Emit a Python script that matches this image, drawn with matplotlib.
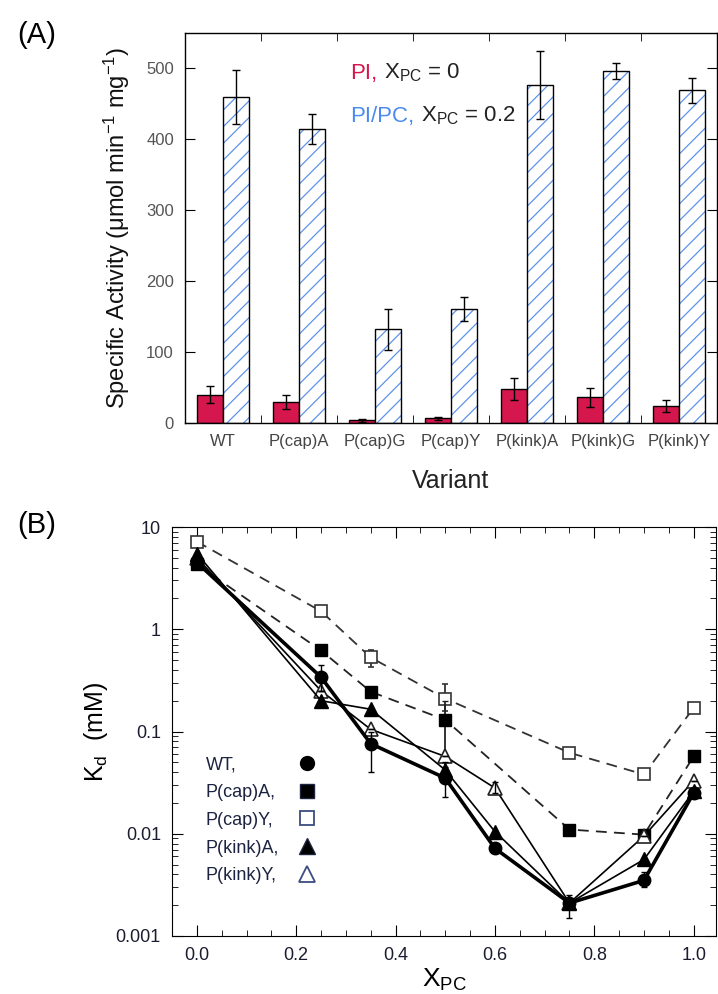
import numpy as np
import matplotlib.pyplot as plt
from matplotlib.lines import Line2D
from matplotlib.offsetbox import TextArea, HPacker, AnchoredOffsetbox
from matplotlib.ticker import MultipleLocator, FixedLocator, LogLocator, NullFormatter

plt.rcParams['font.family'] = ['Liberation Sans', 'DejaVu Sans']
plt.rcParams['mathtext.fontset'] = 'custom'
plt.rcParams['mathtext.rm'] = 'Liberation Sans'
plt.rcParams['mathtext.it'] = 'Liberation Sans:italic'
plt.rcParams['hatch.linewidth'] = 0.9

# -------------------------------------------------
# Panel A data: specific activity per variant
# -------------------------------------------------
variants = ["WT", "P(cap)A", "P(cap)G", "P(cap)Y", "P(kink)A", "P(kink)G", "P(kink)Y"]
act_pi = [40, 30, 4, 6.5, 48, 36, 24]
err_pi = [12, 10, 2, 2, 15, 13, 8]
act_pipc = [460, 415, 132, 161, 477, 496, 469]
err_pipc = [38, 21, 29, 17, 48, 11, 18]

# -------------------------------------------------
# Panel B data: Kd vs X_PC
# -------------------------------------------------
x_full = [0.0, 0.25, 0.35, 0.5, 0.6, 0.75, 0.9, 1.0]
x_cap = [0.0, 0.25, 0.35, 0.5, 0.75, 0.9, 1.0]

kd_wt = [4.5, 0.34, 0.076, 0.035, 0.0072, 0.0021, 0.0035, 0.025]
kd_wt_lo = [4.5, 0.25, 0.04, 0.023, 0.0065, 0.0015, 0.003, 0.024]
kd_wt_hi = [4.5, 0.45, 0.1, 0.05, 0.008, 0.0025, 0.0042, 0.027]

kd_capA = [4.3, 0.62, 0.245, 0.13, 0.011, 0.0098, 0.057]
kd_capA_lo = [4.3, 0.62, 0.245, 0.045, 0.011, 0.0098, 0.057]
kd_capA_hi = [4.3, 0.62, 0.245, 0.2, 0.011, 0.0098, 0.057]

kd_capY = [7.2, 1.5, 0.53, 0.21, 0.062, 0.038, 0.17]
kd_capY_lo = [7.2, 1.5, 0.43, 0.16, 0.062, 0.038, 0.17]
kd_capY_hi = [7.2, 1.5, 0.62, 0.29, 0.062, 0.038, 0.17]

kd_kinkA = [5.5, 0.2, 0.165, 0.042, 0.0105, 0.0021, 0.0056, 0.026]
kd_kinkY = [5.0, 0.25, 0.105, 0.057, 0.028, 0.0021, 0.0095, 0.033]
kd_kinkY_lo = [5.0, 0.25, 0.105, 0.057, 0.025, 0.0021, 0.0095, 0.033]
kd_kinkY_hi = [5.0, 0.25, 0.105, 0.057, 0.032, 0.0021, 0.0095, 0.033]

legend_names = ["WT,", "P(cap)A,", "P(cap)Y,", "P(kink)A,", "P(kink)Y,"]

red = "#D5174D"
blue = "#5E92EA"
legblue = "#4B8AF0"

W, H = 718, 994
fig = plt.figure(figsize=(W / 100, H / 100), dpi=100)

# -------------------------------------------------
# Panel A
# -------------------------------------------------
axA = fig.add_axes([185 / W, 1 - 423 / H, 532 / W, 390 / H])
pos = np.arange(len(variants))
bw = 0.34
axA.bar(pos - bw / 2, act_pi, bw, color=red, edgecolor="black", linewidth=1.0, zorder=2)
axA.bar(pos + bw / 2, act_pipc, bw, color="white", edgecolor=blue, hatch="//", linewidth=0, zorder=2)
axA.bar(pos + bw / 2, act_pipc, bw, fill=False, edgecolor="black", linewidth=1.0, zorder=3)
axA.errorbar(pos - bw / 2, act_pi, yerr=err_pi, fmt="none", ecolor="black", elinewidth=1, capsize=3, zorder=4)
axA.errorbar(pos + bw / 2, act_pipc, yerr=err_pipc, fmt="none", ecolor="black", elinewidth=1, capsize=3, zorder=4)

axA.set_xlim(-0.5, 6.5)
axA.set_ylim(0, 550)
axA.yaxis.set_major_locator(MultipleLocator(100))
axA.set_xticks(pos)
axA.set_xticklabels(variants, fontsize=12, color="#444444")
axA.xaxis.set_minor_locator(FixedLocator(pos[:-1] + 0.5))
axA.tick_params(axis="x", which="major", length=0, pad=8)
axA.tick_params(axis="x", which="minor", direction="in", length=6, top=True, bottom=True)
axA.tick_params(axis="y", which="major", direction="in", length=7, right=True, labelsize=12,
                labelcolor="#555555", pad=8)
for s in axA.spines.values():
    s.set_linewidth(1.0)
axA.set_ylabel("Specific Activity (μmol min$^{-1}$ mg$^{-1}$)", fontsize=17, labelpad=10,
               color="#111111")
axA.set_xlabel("Variant", fontsize=18, labelpad=14, color="#222222")

# legend text with coloured prefixes, baseline-aligned pieces
def colour_line(prefix, colour, rest, y):
    box = HPacker(children=[TextArea(prefix, textprops=dict(color=colour, fontsize=16)),
                            TextArea(rest, textprops=dict(color="#222222", fontsize=16))],
                  align="baseline", pad=0, sep=5)
    anchored = AnchoredOffsetbox(loc="center left", child=box, pad=0, borderpad=0, frameon=False,
                                 bbox_to_anchor=(0.31, y), bbox_transform=axA.transAxes)
    axA.add_artist(anchored)

colour_line("PI,", red, "X$_\\mathrm{PC}$ = 0", 0.897)
colour_line("PI/PC,", legblue, "X$_\\mathrm{PC}$ = 0.2", 0.787)

fig.text(37 / W, 1 - 35 / H, "(A)", fontsize=21, ha="center", va="center")

# -------------------------------------------------
# Panel B
# -------------------------------------------------
axB = fig.add_axes([172 / W, 1 - 936 / H, 544 / W, 409 / H])
dash = (0, (6, 4))

def err(y, lo, hi):
    y = np.array(y)
    return [y - np.array(lo), np.array(hi) - y]

axB.errorbar(x_cap, kd_capY, yerr=err(kd_capY, kd_capY_lo, kd_capY_hi), color="#333333", lw=1.3,
             ls=dash, marker="s", ms=9, mfc="white", mec="#333333", mew=1.2, capsize=2.5, zorder=2)
axB.errorbar(x_cap, kd_capA, yerr=err(kd_capA, kd_capA_lo, kd_capA_hi), color="#222222", lw=1.3,
             ls=dash, marker="s", ms=9, mfc="black", mec="black", capsize=2.5, zorder=3)
axB.plot(x_full, kd_kinkY, color="black", lw=1.2, marker="^", ms=10, mfc="white", mec="#222222",
         mew=1.2, zorder=4)
axB.errorbar(x_full, kd_kinkY, yerr=err(kd_kinkY, kd_kinkY_lo, kd_kinkY_hi), fmt="none",
             ecolor="black", elinewidth=1, capsize=2.5, zorder=4)
axB.plot(x_full, kd_kinkA, color="black", lw=1.2, marker="^", ms=10, mfc="black", mec="black", zorder=5)
axB.errorbar(x_full, kd_wt, yerr=err(kd_wt, kd_wt_lo, kd_wt_hi), color="black", lw=2.6,
             marker="o", ms=9, mfc="black", mec="black", elinewidth=1, capsize=2.5, zorder=6)

axB.set_yscale("log")
axB.set_ylim(0.001, 10)
axB.set_xlim(-0.05, 1.045)
axB.set_yticks([0.001, 0.01, 0.1, 1, 10])
axB.set_yticklabels(["0.001", "0.01", "0.1", "1", "10"])
axB.yaxis.set_minor_locator(LogLocator(base=10, subs=np.arange(2, 10)))
axB.yaxis.set_minor_formatter(NullFormatter())
axB.xaxis.set_major_locator(MultipleLocator(0.2))
axB.xaxis.set_minor_locator(MultipleLocator(0.05))
axB.xaxis.set_major_formatter(plt.FuncFormatter(lambda v, p: f"{v:.1f}"))
axB.tick_params(which="major", direction="in", length=8, top=True, right=True, labelsize=13,
                labelcolor="#1c1c30", pad=8)
axB.tick_params(which="minor", direction="in", length=4, top=True, right=True)
axB.set_ylabel("K$_\\mathrm{d}$  (mM)", fontsize=18, labelpad=4)
axB.set_xlabel("X$_\\mathrm{PC}$", fontsize=19, labelpad=2)

# legend: names column and marker column
leg_txt = [Line2D([], [], linestyle="none") for _ in legend_names]
leg1 = axB.legend(leg_txt, legend_names, loc="upper left", bbox_to_anchor=(0.062, 0.44),
                  frameon=False, handlelength=0, handletextpad=0, borderpad=0, borderaxespad=0,
                  fontsize=13, labelspacing=0.6, labelcolor="#1c2340")
axB.add_artist(leg1)
leg_mk = [
    Line2D([], [], linestyle="none", marker="o", ms=10, mfc="black", mec="black"),
    Line2D([], [], linestyle="none", marker="s", ms=10, mfc="black", mec="#1c2340"),
    Line2D([], [], linestyle="none", marker="s", ms=10, mfc="white", mec="#3b4c80", mew=1.3),
    Line2D([], [], linestyle="none", marker="^", ms=11, mfc="black", mec="#1c2340"),
    Line2D([], [], linestyle="none", marker="^", ms=11, mfc="white", mec="#3b4c80", mew=1.3),
]
axB.legend(leg_mk, [""] * 5, loc="upper left", bbox_to_anchor=(0.232, 0.44), frameon=False,
           handlelength=1.0, handletextpad=0, borderpad=0, borderaxespad=0, fontsize=13,
           labelspacing=0.6)

fig.text(37 / W, 1 - 525 / H, "(B)", fontsize=21, ha="center", va="center")

fig.savefig("out.png", dpi=100)
